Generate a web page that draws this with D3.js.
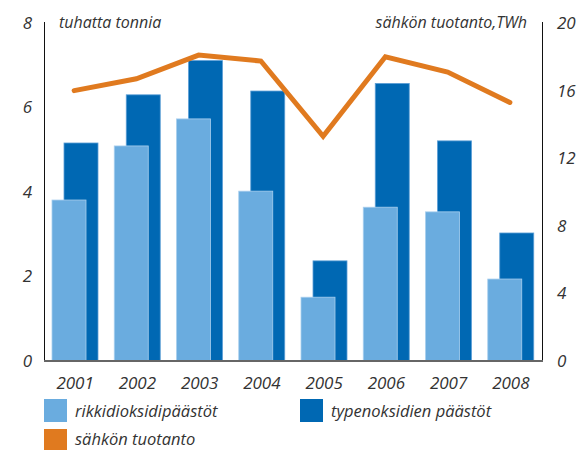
<!DOCTYPE html>
<html>
<head>
  <meta charset="utf-8">
  <title>Päästöt ja sähkön tuotanto</title>
  <script src="https://d3js.org/d3.v7.min.js"></script>
  <style>
    body { margin: 0; background: #fff; }
    text { font-family: "Open Sans", sans-serif; font-style: italic; fill: #333; }
  </style>
</head>
<body>
  <div id="chart"></div>
  <script>
    // data
    const years = ["2001", "2002", "2003", "2004", "2005", "2006", "2007", "2008"];
    const so2 = [3.81, 5.09, 5.73, 4.02, 1.51, 3.64, 3.53, 1.94];   // rikkidioksidipäästöt, 1000 t
    const nox = [5.16, 6.30, 7.11, 6.39, 2.37, 6.57, 5.21, 3.03];   // typenoksidien päästöt, 1000 t
    const power = [16.0, 16.7, 18.1, 17.75, 13.3, 18.0, 17.1, 15.3]; // sähkön tuotanto, TWh
    const leftTicks = [0, 2, 4, 6, 8];
    const rightTicks = [0, 4, 8, 12, 16, 20];

    const width = 583, height = 450;
    const colLight = "#6aacdf", colDark = "#0068b3", colOrange = "#e07a1f";

    const svg = d3.select("#chart").append("svg")
      .attr("width", width)
      .attr("height", height);

    const x = d3.scaleBand().domain(years).range([44, 542]).padding(0);
    const yL = d3.scaleLinear().domain([0, 8]).range([361, 23]);
    const yR = d3.scaleLinear().domain([0, 20]).range([361, 23]);

    // dark bars behind
    svg.selectAll(".nox").data(nox).enter().append("rect")
      .attr("x", (d, i) => x(years[i]) + 20)
      .attr("y", d => yL(d))
      .attr("width", 34)
      .attr("height", d => yL(0) - yL(d))
      .attr("fill", colDark)
      .attr("stroke", "#5c9fd6")
      .attr("stroke-width", 0.8);

    // light bars in front
    svg.selectAll(".so2").data(so2).enter().append("rect")
      .attr("x", (d, i) => x(years[i]) + 8)
      .attr("y", d => yL(d))
      .attr("width", 34)
      .attr("height", d => yL(0) - yL(d))
      .attr("fill", colLight)
      .attr("stroke", "#a9cfee")
      .attr("stroke-width", 0.8);

    // axis lines
    svg.append("line").attr("x1", 44.5).attr("x2", 44.5).attr("y1", 22).attr("y2", 361)
      .attr("stroke", "#111").attr("stroke-width", 1);
    svg.append("line").attr("x1", 542.5).attr("x2", 542.5).attr("y1", 22).attr("y2", 361)
      .attr("stroke", "#111").attr("stroke-width", 1);
    svg.append("line").attr("x1", 44).attr("x2", 543).attr("y1", 361).attr("y2", 361)
      .attr("stroke", "#666").attr("stroke-width", 2);

    // line
    const line = d3.line()
      .x((d, i) => x(years[i]) + x.bandwidth() / 2 - 1)
      .y(d => yR(d));
    svg.append("path").datum(power)
      .attr("d", line)
      .attr("fill", "none")
      .attr("stroke", colOrange)
      .attr("stroke-width", 5)
      .attr("stroke-linecap", "round")
      .attr("stroke-linejoin", "miter");

    // tick labels
    svg.selectAll(".lt").data(leftTicks).enter().append("text")
      .attr("x", 32).attr("y", d => yL(d)).attr("dy", "0.35em")
      .attr("text-anchor", "end").attr("font-size", 17)
      .text(d => d);
    svg.selectAll(".rt").data(rightTicks).enter().append("text")
      .attr("x", 557).attr("y", d => yR(d)).attr("dy", "0.35em")
      .attr("text-anchor", "start").attr("font-size", 17)
      .text(d => d);
    svg.selectAll(".xt").data(years).enter().append("text")
      .attr("x", d => x(d) + x.bandwidth() / 2).attr("y", 383).attr("dy", "0.35em")
      .attr("text-anchor", "middle").attr("font-size", 17)
      .text(d => d);

    // axis titles
    svg.append("text").attr("x", 59).attr("y", 22).attr("dy", "0.35em")
      .attr("font-size", 16).text("tuhatta tonnia");
    svg.append("text").attr("x", 527).attr("y", 22).attr("dy", "0.35em")
      .attr("text-anchor", "end").attr("font-size", 16).text("sähkön tuotanto,TWh");

    // legend
    const legend = [
      { label: "rikkidioksidipäästöt", color: colLight, x: 44, y: 399, ty: 12 },
      { label: "typenoksidien päästöt", color: colDark, x: 300, y: 399, ty: 12 },
      { label: "sähkön tuotanto", color: colOrange, x: 44, y: 429, ty: 10 }
    ];
    const lg = svg.selectAll(".lg").data(legend).enter().append("g")
      .attr("transform", d => "translate(" + d.x + "," + d.y + ")");
    lg.append("rect").attr("width", 23).attr("height", 23).attr("fill", d => d.color);
    lg.append("text").attr("x", 31).attr("y", d => d.ty).attr("dy", "0.35em")
      .attr("font-size", 16.5).text(d => d.label);
  </script>
</body>
</html>
